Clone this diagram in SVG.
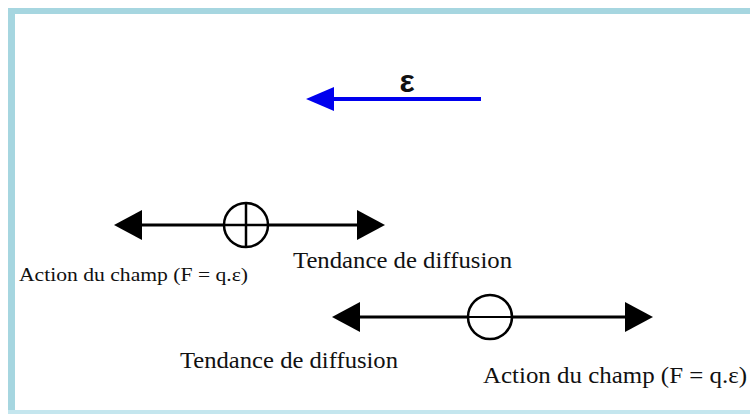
<svg xmlns="http://www.w3.org/2000/svg" width="750" height="414" viewBox="0 0 750 414">
  <style>
    .ax { stroke: #000; stroke-width: 3; fill: none; }
    .t { font-family: "Liberation Serif", "Times New Roman", serif; fill: #111; }
  </style>
  <rect x="0" y="0" width="750" height="414" fill="#ffffff"/>
  <g id="frame">
    <rect x="8" y="8" width="742" height="6" fill="#a6d6e0"/>
    <rect x="8" y="8" width="7" height="406" fill="#a6d6e0"/>
    <rect x="8" y="410" width="742" height="4" fill="#c4e6ee"/>
  </g>
  <g id="connectors">
    <g id="field">
      <line x1="481" y1="99" x2="330" y2="99" stroke="#0000ee" stroke-width="4"/>
      <path d="M306,99 L334,87 L334,111 Z" fill="#0000ee"/>
    </g>
    <g id="pos-arrows">
      <line class="ax" x1="140" y1="225" x2="359" y2="225"/>
      <path d="M114,225 L142,210 L142,240 Z" fill="#000"/>
      <path d="M385,225 L357,210 L357,240 Z" fill="#000"/>
    </g>
    <g id="neg-arrows">
      <line class="ax" x1="358" y1="317" x2="627" y2="317"/>
      <path d="M332,317 L360,302 L360,332 Z" fill="#000"/>
      <path d="M653,317 L625,302 L625,332 Z" fill="#000"/>
    </g>
  </g>
  <g id="epsilon">
    <text x="407" y="92" text-anchor="middle" font-family="Liberation Sans, Arial, sans-serif" font-weight="bold" font-size="32" fill="#111">ε</text>
  </g>
  <g id="positive-charge">
    <circle cx="246" cy="225" r="22" fill="#fff" stroke="#000" stroke-width="2.5"/>
    <line x1="224" y1="225" x2="268" y2="225" stroke="#000" stroke-width="2.5"/>
    <line x1="246" y1="203" x2="246" y2="247" stroke="#000" stroke-width="2.5"/>
  </g>
  <g id="negative-charge">
    <circle cx="490" cy="317" r="22" fill="#fff" stroke="#000" stroke-width="2.5"/>
    <line x1="468" y1="317" x2="512" y2="317" stroke="#000" stroke-width="2"/>
  </g>
  <g id="labels">
    <text class="t" x="19" y="281" font-size="19" textLength="229" lengthAdjust="spacingAndGlyphs">Action du champ (F = q.ε)</text>
    <text class="t" x="293" y="268" font-size="23" textLength="219" lengthAdjust="spacingAndGlyphs">Tendance de diffusion</text>
    <text class="t" x="180" y="368" font-size="23" textLength="218" lengthAdjust="spacingAndGlyphs">Tendance de diffusion</text>
    <text class="t" x="483" y="383" font-size="23" textLength="264" lengthAdjust="spacingAndGlyphs">Action du champ (F = q.ε)</text>
  </g>
</svg>
